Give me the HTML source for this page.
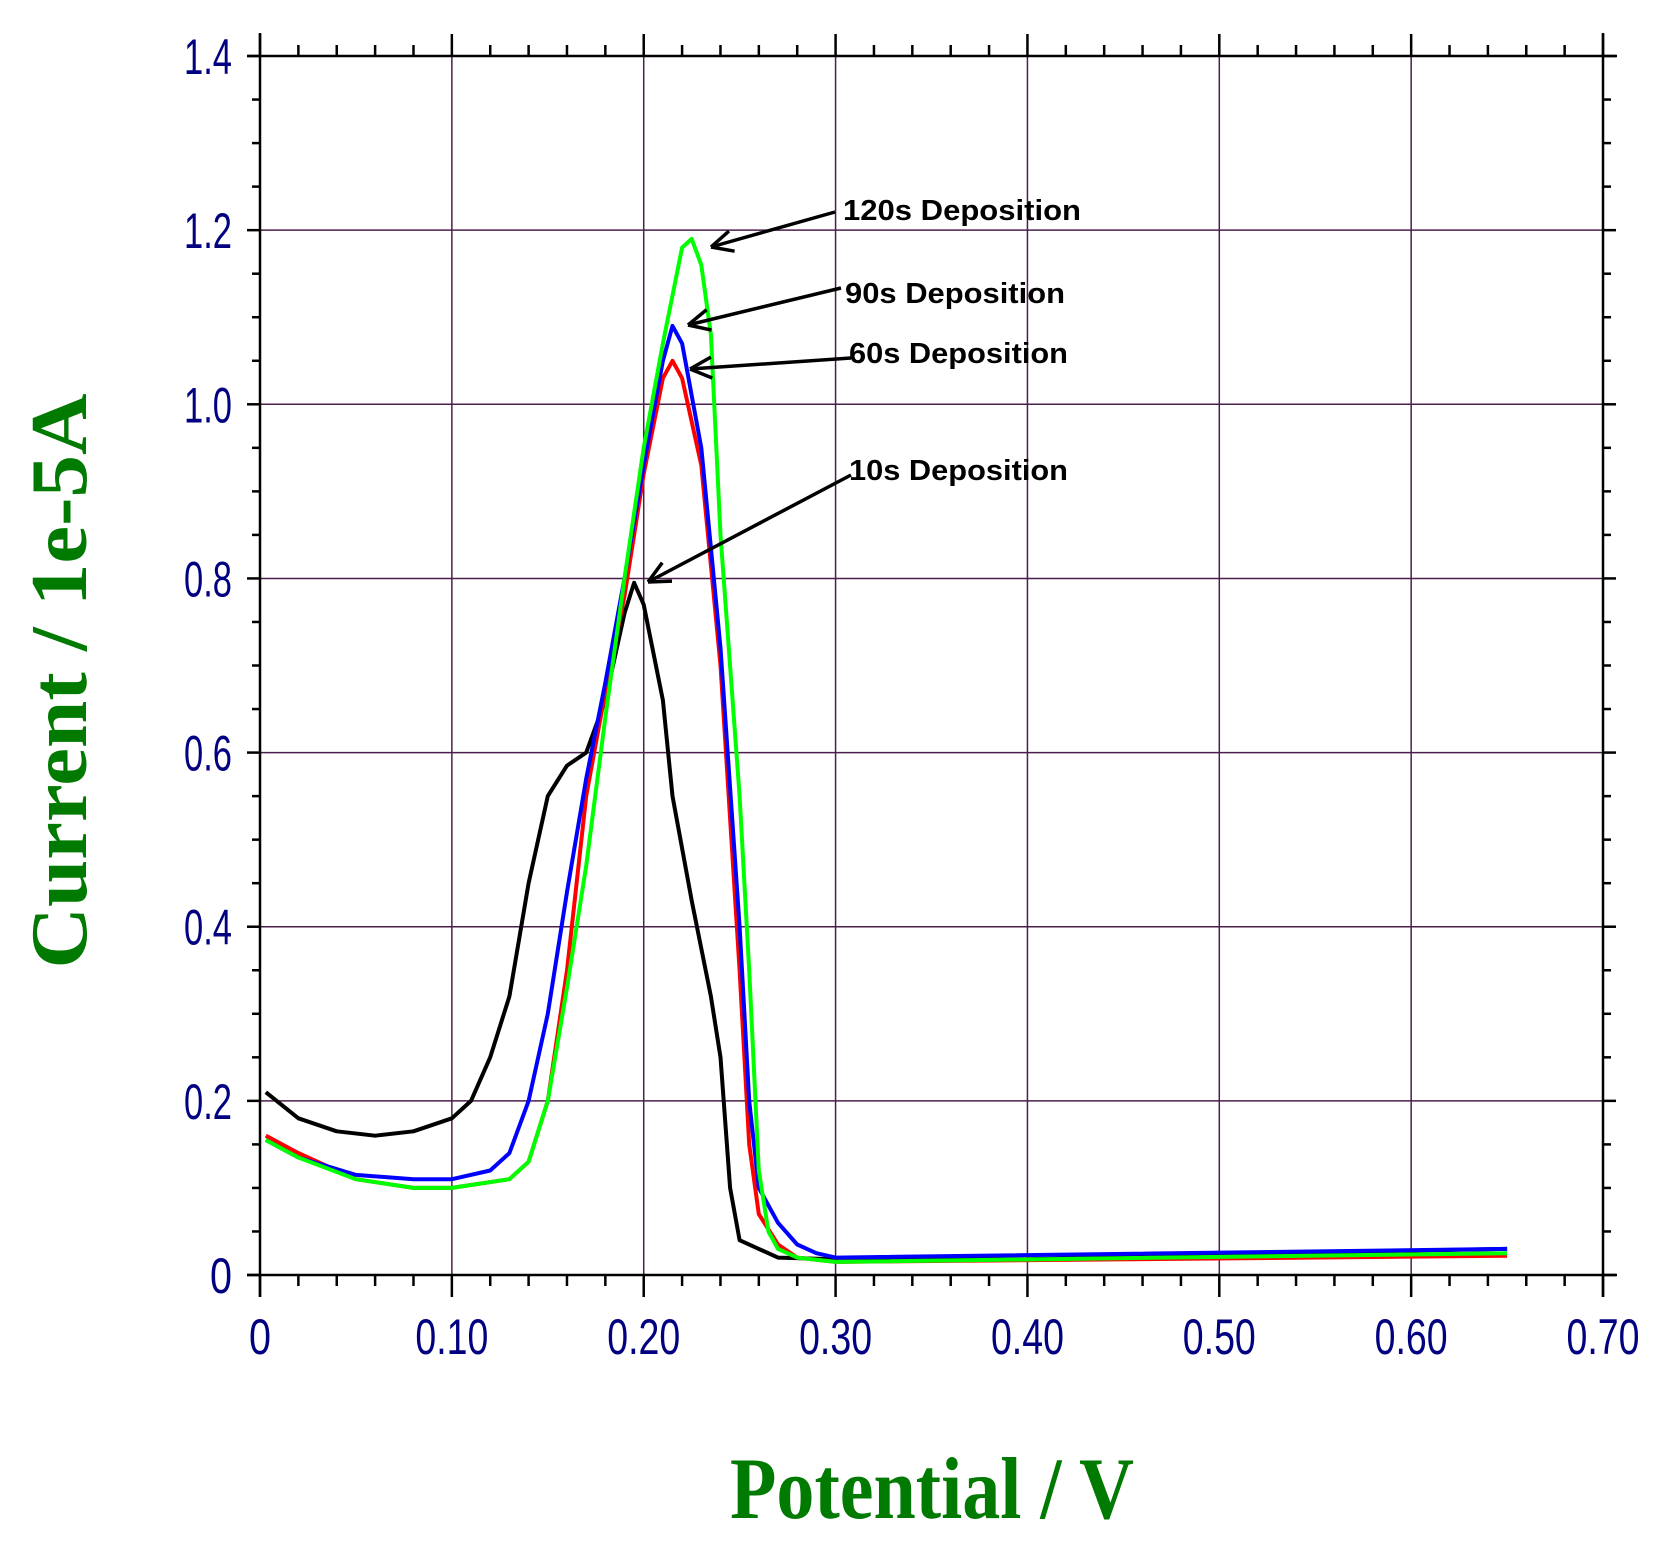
<!DOCTYPE html>
<html><head><meta charset="utf-8"><style>html,body{margin:0;padding:0;background:#fff}svg{display:block}</style></head>
<body>
<svg id="s" width="1657" height="1556" xmlns="http://www.w3.org/2000/svg">
<g id="grid"></g>
<g id="axes" stroke="#000" stroke-width="2.5" fill="none"></g>
<g id="labels" font-family="Liberation Sans, sans-serif" font-size="50" fill="#000080"></g>
<g id="curves" fill="none" stroke-width="4" stroke-linejoin="round"></g>
<g id="ann" stroke="#000" stroke-width="3.5" fill="none"></g>
<g font-family="Liberation Sans, sans-serif" font-weight="bold" font-size="29" fill="#000">
<text x="843" y="220" textLength="238" lengthAdjust="spacingAndGlyphs">120s Deposition</text>
<text x="845" y="303" textLength="220" lengthAdjust="spacingAndGlyphs">90s Deposition</text>
<text x="849" y="363" textLength="219" lengthAdjust="spacingAndGlyphs">60s Deposition</text>
<text x="849" y="480" textLength="219" lengthAdjust="spacingAndGlyphs">10s Deposition</text>
</g>
<text transform="translate(86,681) rotate(-90)" text-anchor="middle" font-family="Liberation Serif, serif" font-weight="bold" font-size="80" fill="#007a00" textLength="575" lengthAdjust="spacingAndGlyphs">Current / 1e-5A</text>
<text x="932" y="1518" text-anchor="middle" font-family="Liberation Serif, serif" font-weight="bold" font-size="88" fill="#007a00" textLength="404" lengthAdjust="spacingAndGlyphs">Potential / V</text>
</svg>
<script>
const NS="http://www.w3.org/2000/svg";
const X=v=>260+v*1918.6, Y=i=>1275-i*870.7;
function el(p,t,a){const e=document.createElementNS(NS,t);for(const k in a)e.setAttribute(k,a[k]);p.appendChild(e);return e;}
const g=document.getElementById('grid'),ax=document.getElementById('axes'),lb=document.getElementById('labels');
for(let i=1;i<7;i++)el(g,'line',{x1:X(i/10),x2:X(i/10),y1:56,y2:1275,stroke:'#4b1f4b','stroke-width':1.5});
for(let i=1;i<7;i++)el(g,'line',{x1:260,x2:1603,y1:Y(i/5),y2:Y(i/5),stroke:'#4b1f4b','stroke-width':1.5});
el(ax,'line',{x1:260,x2:260,y1:33,y2:1297});
el(ax,'line',{x1:1603,x2:1603,y1:33,y2:1297});
el(ax,'line',{x1:247,x2:1617,y1:56,y2:56});
el(ax,'line',{x1:247,x2:1617,y1:1275,y2:1275});
for(let k=0;k<=35;k++){const x=X(k*0.02),maj=k%5==0;
 el(ax,'line',{x1:x,x2:x,y1:1275,y2:1275+(maj?22:11)});
 el(ax,'line',{x1:x,x2:x,y1:56,y2:56-(maj?22:11)});}
for(let k=0;k<=28;k++){const y=Y(k*0.05),maj=k%4==0;
 el(ax,'line',{x1:260,x2:260-(maj?13:8),y1:y,y2:y});
 el(ax,'line',{x1:1603,x2:1603+(maj?13:8),y1:y,y2:y});}
['0','0.2','0.4','0.6','0.8','1.0','1.2','1.4'].forEach((t,i)=>{const e=el(lb,'text',{x:232,y:Y(i*0.2)+18,'text-anchor':'end'});e.textContent=t;
 if(t.length>1){e.setAttribute('textLength',48);e.setAttribute('lengthAdjust','spacingAndGlyphs');}else{e.setAttribute('textLength',22);e.setAttribute('lengthAdjust','spacingAndGlyphs');}});
['0','0.10','0.20','0.30','0.40','0.50','0.60','0.70'].forEach((t,i)=>{const e=el(lb,'text',{x:X(i/10),y:1354,'text-anchor':'middle'});e.textContent=t;
 if(t.length>1){e.setAttribute('textLength',73);e.setAttribute('lengthAdjust','spacingAndGlyphs');}else{e.setAttribute('textLength',22);e.setAttribute('lengthAdjust','spacingAndGlyphs');}});
const data={
'#000':[[0.003,0.21],[0.02,0.18],[0.04,0.165],[0.06,0.16],[0.08,0.165],[0.1,0.18],[0.11,0.2],[0.12,0.25],[0.13,0.32],[0.14,0.45],[0.15,0.55],[0.16,0.585],[0.17,0.6],[0.18,0.66],[0.19,0.76],[0.195,0.795],[0.2,0.77],[0.21,0.66],[0.215,0.55],[0.225,0.43],[0.235,0.32],[0.24,0.25],[0.245,0.1],[0.25,0.04],[0.26,0.03],[0.27,0.02],[0.3,0.018],[0.4,0.018],[0.6,0.028],[0.65,0.03]],
'#ff0000':[[0.003,0.16],[0.02,0.14],[0.05,0.11],[0.08,0.1],[0.1,0.1],[0.13,0.11],[0.14,0.13],[0.15,0.2],[0.16,0.35],[0.17,0.55],[0.18,0.67],[0.19,0.78],[0.2,0.92],[0.21,1.03],[0.215,1.05],[0.22,1.03],[0.23,0.93],[0.24,0.7],[0.25,0.35],[0.255,0.15],[0.26,0.07],[0.27,0.035],[0.28,0.02],[0.3,0.015],[0.65,0.022]],
'#0000ff':[[0.003,0.155],[0.02,0.135],[0.05,0.115],[0.08,0.11],[0.1,0.11],[0.12,0.12],[0.13,0.14],[0.14,0.2],[0.15,0.3],[0.16,0.44],[0.17,0.57],[0.18,0.68],[0.19,0.8],[0.2,0.93],[0.21,1.05],[0.215,1.09],[0.22,1.07],[0.23,0.95],[0.24,0.72],[0.25,0.4],[0.255,0.2],[0.26,0.1],[0.27,0.06],[0.28,0.035],[0.29,0.025],[0.3,0.02],[0.65,0.03]],
'#00ff00':[[0.003,0.155],[0.02,0.135],[0.05,0.11],[0.08,0.1],[0.1,0.1],[0.13,0.11],[0.14,0.13],[0.15,0.2],[0.16,0.33],[0.17,0.47],[0.18,0.64],[0.19,0.8],[0.2,0.95],[0.21,1.07],[0.22,1.18],[0.225,1.19],[0.23,1.16],[0.235,1.08],[0.24,0.85],[0.25,0.55],[0.255,0.35],[0.26,0.12],[0.265,0.05],[0.27,0.03],[0.28,0.02],[0.3,0.015],[0.65,0.025]]};
const cv=document.getElementById('curves');
for(const c in data)el(cv,'polyline',{stroke:c,points:data[c].map(p=>X(p[0]).toFixed(1)+','+Y(p[1]).toFixed(1)).join(' ')});
const an=document.getElementById('ann');
function arrow(x1,y1,x2,y2){el(an,'line',{x1,y1,x2,y2});const a=Math.atan2(y1-y2,x1-x2),L=24;
 [0.45,-0.45].forEach(d=>el(an,'line',{x1:x2,y1:y2,x2:x2+L*Math.cos(a+d),y2:y2+L*Math.sin(a+d)}));}
arrow(835,212,711,247);arrow(841,288,688,325);arrow(851,358,690,369);arrow(851,475,648,582);
</script>
</body></html>
